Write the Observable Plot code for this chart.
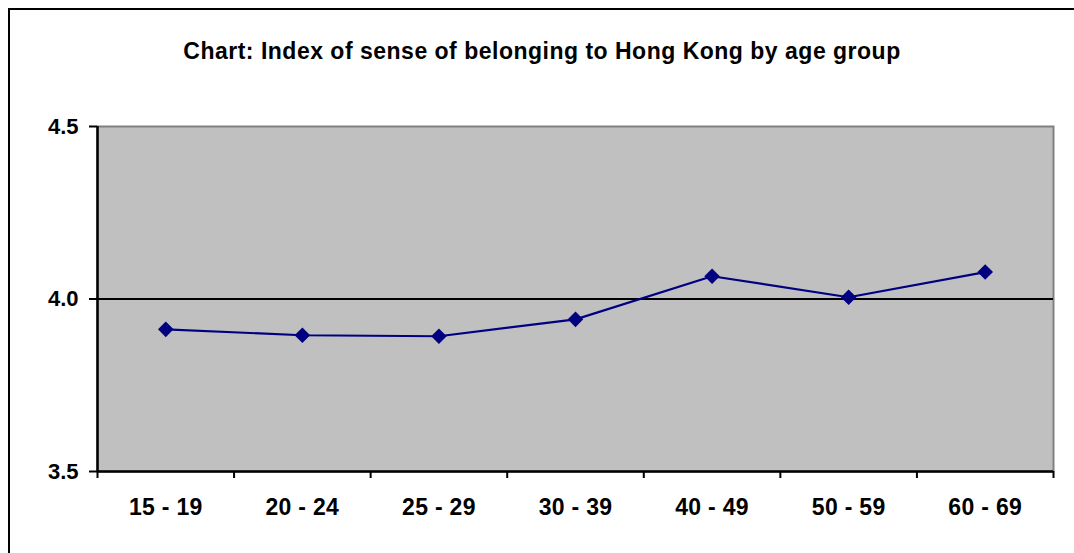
<!DOCTYPE html>
<html><head><meta charset="utf-8">
<script src="https://cdn.jsdelivr.net/npm/d3@7"></script>
<script src="https://cdn.jsdelivr.net/npm/@observablehq/plot@0.6"></script>
<style>
html,body{margin:0;padding:0;background:#fff;overflow:hidden;width:1074px;height:553px}
#wrap{position:relative;width:1074px;height:553px;overflow:hidden}
#border{position:absolute;left:8px;top:8px;width:1100px;height:600px;border-left:2px solid #000;border-top:2px solid #000;}
#title{position:absolute;left:0;width:1084px;top:39.5px;text-align:center;font:bold 23px "Liberation Sans",Arial,sans-serif;line-height:23px;letter-spacing:0.5px;color:#000;white-space:nowrap}
#chart{position:absolute;left:0;top:0}
.xlab text{font-size:23px;letter-spacing:0.3px}
</style></head><body>
<div id="wrap"><div id="chart"></div><div id="border"></div><div id="title"></div></div>
<script>
const title = "Chart: Index of sense of belonging to Hong Kong by age group";
const categories = ["15 - 19","20 - 24","25 - 29","30 - 39","40 - 49","50 - 59","60 - 69"];
const values = [3.912, 3.895, 3.892, 3.941, 4.066, 4.005, 4.078];
const yTicks = [3.5, 4.0, 4.5];
const yDomain = [3.5, 4.5];
const gridValue = 4.0;

const data = categories.map((c, i) => ({i, c, v: values[i]}));
const n = categories.length;
document.getElementById("title").textContent = title;

const plot = Plot.plot({
  width: 1074, height: 553,
  marginLeft: 97, marginRight: 21, marginTop: 126, marginBottom: 82,
  style: {fontFamily: '"Liberation Sans",Arial,sans-serif', fontSize: "22px", fontWeight: "bold", color: "#000", background: "transparent", overflow: "visible"},
  x: {type: "linear", domain: [0, n]},
  y: {domain: yDomain},
  marks: [
    Plot.frame({fill: "#c0c0c0", stroke: "#808080", strokeWidth: 2}),
    Plot.ruleY([gridValue], {stroke: "#000", strokeWidth: 2}),
    Plot.ruleY([yDomain[0]], {stroke: "#000", strokeWidth: 2.5}),
    Plot.ruleX([0], {stroke: "#000", strokeWidth: 2.5}),
    Plot.axisY({ticks: yTicks, tickFormat: d3.format(".1f"), tickSize: 8, tickPadding: 11, stroke: "#000", strokeWidth: 2, label: null}),
    Plot.axisX({ticks: d3.range(n + 1), tickFormat: () => "", tickSize: 7, stroke: "#000", strokeWidth: 2, label: null}),
    Plot.axisX({ticks: d3.range(n).map(i => i + 0.5), tickFormat: t => categories[Math.floor(t)], tickSize: 0, tickPadding: 27, label: null, className: "xlab"}),
    Plot.line(data, {x: d => d.i + 0.5, y: "v", stroke: "#000080", strokeWidth: 2.2}),
    Plot.dot(data, {x: d => d.i + 0.5, y: "v", symbol: "diamond2", r: 7, fill: "#000080", stroke: "none"})
  ]
});
document.getElementById("chart").appendChild(plot);
</script>
</body></html>
